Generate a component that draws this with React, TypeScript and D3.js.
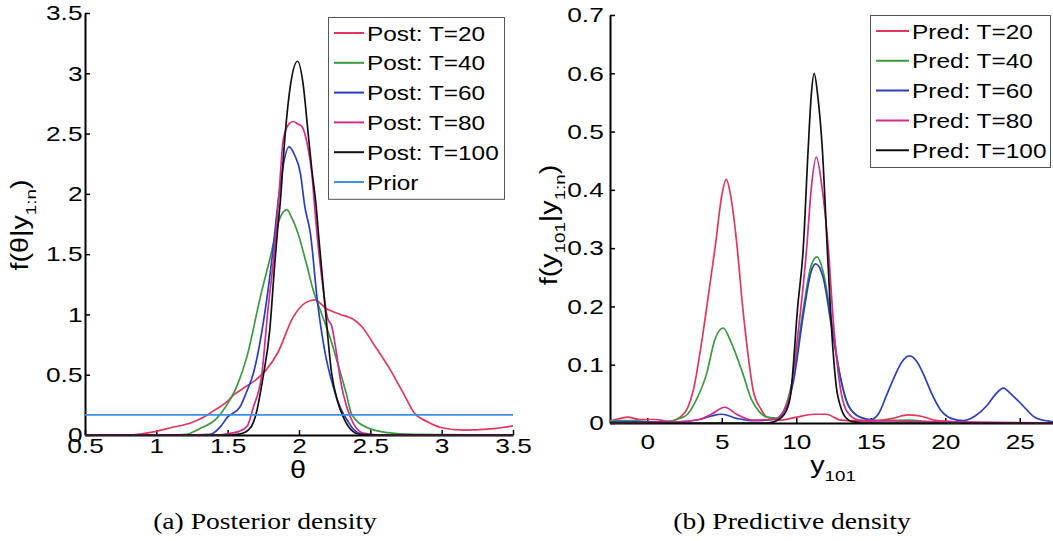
import * as d3 from 'd3';
import { useEffect, useRef } from 'react';

const W = 1053;
const H = 541;

// (a) posterior density of theta: [theta, density] points
const postT20 = [[0.5,0],[0.8,0],[0.9,0.01],[1.0,0.03],[1.1,0.06],[1.24,0.1],[1.32,0.14],[1.4,0.2],[1.5,0.28],[1.54,0.33],[1.6,0.38],[1.7,0.46],[1.77,0.54],[1.85,0.68],[1.96,0.98],[2.05,1.1],[2.11,1.12],[2.19,1.05],[2.29,1.0],[2.38,0.96],[2.44,0.9],[2.52,0.76],[2.64,0.54],[2.73,0.35],[2.81,0.18],[2.9,0.11],[3.0,0.06],[3.15,0.04],[3.34,0.05],[3.5,0.075]];
const postT40 = [[0.5,0],[1.1,0],[1.21,0.005],[1.3,0.05],[1.425,0.14],[1.5,0.26],[1.57,0.42],[1.635,0.65],[1.73,1.15],[1.8,1.48],[1.86,1.78],[1.915,1.87],[1.95,1.8],[1.985,1.7],[2.05,1.43],[2.1,1.2],[2.16,1.0],[2.22,0.8],[2.27,0.6],[2.33,0.35],[2.37,0.17],[2.48,0.06],[2.62,0.02],[2.8,0.005],[3.5,0]];
const postT60 = [[0.5,0],[1.2,0],[1.375,0.005],[1.45,0.07],[1.5,0.15],[1.585,0.23],[1.63,0.35],[1.68,0.51],[1.76,1.01],[1.82,1.56],[1.85,1.9],[1.88,2.17],[1.93,2.39],[1.97,2.32],[2.01,2.17],[2.04,1.9],[2.08,1.67],[2.13,1.1],[2.18,0.7],[2.24,0.4],[2.3,0.2],[2.34,0.12],[2.38,0.05],[2.44,0.01],[2.6,0],[3.5,0]];
const postT80 = [[0.5,0],[1.4,0],[1.5,0.01],[1.58,0.03],[1.635,0.07],[1.68,0.23],[1.74,0.51],[1.78,1.01],[1.83,1.56],[1.86,2.0],[1.89,2.45],[1.93,2.58],[1.96,2.6],[1.99,2.58],[2.02,2.56],[2.06,2.4],[2.09,2.17],[2.11,1.89],[2.13,1.62],[2.16,1.3],[2.2,0.97],[2.23,0.9],[2.26,0.7],[2.29,0.46],[2.33,0.25],[2.36,0.15],[2.4,0.06],[2.45,0.015],[2.55,0],[3.5,0]];
const postT100 = [[0.5,0],[1.5,0],[1.59,0.01],[1.66,0.06],[1.7,0.18],[1.745,0.46],[1.795,0.87],[1.83,1.42],[1.85,1.7],[1.87,1.95],[1.9,2.45],[1.94,2.9],[1.99,3.1],[2.03,2.9],[2.06,2.55],[2.09,2.2],[2.12,1.9],[2.14,1.62],[2.18,1.1],[2.23,0.5],[2.27,0.28],[2.31,0.15],[2.36,0.05],[2.43,0.005],[2.6,0],[3.5,0]];
const prior = [[0.5,0.1667],[3.5,0.1667]];
const postLabels = ['Post: T=20','Post: T=40','Post: T=60','Post: T=80','Post: T=100','Prior'];
const thetaTicks = [0.5,1,1.5,2,2.5,3,3.5];
const densTicks = [0,0.5,1,1.5,2,2.5,3,3.5];

// (b) predictive density of y101: [y, density]
const predT20 = [[-2.5,0.003],[-1.8,0.008],[-1.3,0.01],[-0.5,0.006],[0.5,0.006],[1.5,0.003],[2.2,0.01],[2.7,0.025],[3.1,0.057],[3.6,0.13],[4.0,0.2],[4.6,0.31],[5.0,0.39],[5.3,0.418],[5.6,0.39],[6.0,0.31],[6.4,0.2],[6.8,0.11],[7.1,0.057],[7.6,0.025],[8.05,0.01],[9,0.005],[10,0.01],[11.2,0.015],[12,0.015],[13,0.005],[15,0.003],[16.5,0.008],[17.5,0.014],[18.3,0.012],[19.5,0.004],[21,0.002],[22.5,0]];
const predT40 = [[-2.5,0.004],[-1,0.004],[0.5,0.002],[1.5,0.003],[2.2,0.008],[2.7,0.015],[3.3,0.04],[4.0,0.086],[4.5,0.14],[5.1,0.163],[5.6,0.14],[6.4,0.086],[7,0.04],[7.5,0.02],[8.05,0.01],[8.8,0.008],[9.3,0.03],[9.8,0.08],[10.5,0.2],[11,0.27],[11.4,0.285],[11.8,0.26],[12.4,0.17],[12.95,0.08],[13.5,0.03],[14.3,0.01],[15.5,0.004],[17.5,0.005],[19,0.002],[21,0]];
const predT60 = [[-2.5,0.002],[2,0.002],[3.5,0.006],[4.3,0.012],[5,0.015],[6,0.008],[7,0.004],[8.5,0.006],[9.3,0.025],[9.8,0.07],[10.5,0.19],[11,0.26],[11.3,0.273],[11.8,0.25],[12.4,0.16],[12.95,0.08],[13.5,0.03],[14.3,0.01],[15,0.006],[15.5,0.015],[16.1,0.05],[16.6,0.08],[17.1,0.105],[17.6,0.115],[18.1,0.105],[18.6,0.08],[19.1,0.05],[19.7,0.022],[20.4,0.008],[21.2,0.004],[22,0.012],[22.8,0.03],[23.4,0.05],[23.9,0.06],[24.4,0.05],[25.2,0.03],[26,0.01],[27,0.003],[27.5,0.002]];
const predT80 = [[-2.5,0],[2,0.002],[3.5,0.006],[4.3,0.015],[5.2,0.027],[6,0.015],[7,0.005],[8.5,0.006],[9.5,0.04],[10.1,0.15],[10.7,0.3],[11.0,0.4],[11.35,0.456],[11.7,0.41],[12.15,0.3],[12.5,0.17],[12.9,0.07],[13.4,0.02],[14.2,0.005],[17.5,0.003],[27.5,0]];
const predT100 = [[-2.5,0],[8,0],[8.5,0.002],[9.2,0.015],[9.6,0.045],[10.1,0.2],[10.47,0.3],[10.8,0.47],[11.0,0.56],[11.2,0.6],[11.45,0.56],[11.75,0.47],[12.08,0.3],[12.4,0.15],[12.7,0.06],[12.95,0.03],[13.3,0.01],[13.8,0.002],[14.5,0],[27.5,0]];
const predLabels = ['Pred: T=20','Pred: T=40','Pred: T=60','Pred: T=80','Pred: T=100'];
const yTicks = [0,5,10,15,20,25];
const predTicks = [0,0.1,0.2,0.3,0.4,0.5,0.6,0.7];

const colors = ['#e3365f', '#3a9a3e', '#2a3fbf', '#d42c8c', '#111111', '#3f8fe0'];
const SANS = '"Liberation Sans", Arial, Helvetica, sans-serif';
const SERIF = '"Liberation Serif", "Times New Roman", serif';

const App = () => {
  const ref = useRef(null);

  useEffect(() => {
    const svg = d3.select(ref.current);
    svg.selectAll('*').remove();
    svg.append('rect').attr('width', W).attr('height', H).attr('fill', '#fff');

    const styleAxis = (g) => {
      g.select('.domain').attr('stroke', '#000').attr('stroke-width', 2);
      g.selectAll('.tick line').attr('stroke', '#000').attr('stroke-width', 1.5);
      g.selectAll('.tick text')
        .attr('font-family', SANS)
        .attr('font-size', 21)
        .attr('fill', '#000')
        .attr('transform', 'scale(1.25,1)');
    };

    const panel = (cfg) => {
      const { x, y, xTicks, yTicksV, series, labels, legend, xPad, yPad } = cfg;
      const [y0] = y.range();
      const [x0] = x.range();

      svg.append('g')
        .attr('transform', `translate(0,${y0})`)
        .call(d3.axisBottom(x).tickValues(xTicks).tickFormat(d3.format('~g')).tickSizeInner(-5).tickSizeOuter(0).tickPadding(xPad))
        .call(styleAxis);
      svg.append('g')
        .attr('transform', `translate(${x0},0)`)
        .call(d3.axisLeft(y).tickValues(yTicksV).tickFormat(d3.format('~g')).tickSizeInner(-5).tickSizeOuter(0).tickPadding(yPad))
        .call(styleAxis);

      const line = d3.line()
        .x(d => x(d[0]))
        .y(d => y(d[1]))
        .curve(d3.curveMonotoneX);

      series.forEach((s, i) => {
        svg.append('path')
          .datum(s)
          .attr('fill', 'none')
          .attr('stroke', colors[i])
          .attr('stroke-width', 1.7)
          .attr('d', line);
      });

      // legend
      const { left, top, width, rowH, lineLen } = legend;
      const leg = svg.append('g');
      leg.append('rect')
        .attr('x', left + 0.5).attr('y', top + 0.5)
        .attr('width', width).attr('height', rowH * labels.length + 3)
        .attr('fill', '#fff').attr('stroke', '#555').attr('stroke-width', 1);
      labels.forEach((lab, i) => {
        const cy = top + 16 + i * rowH;
        leg.append('line')
          .attr('x1', left + 6).attr('x2', left + 6 + lineLen)
          .attr('y1', cy).attr('y2', cy)
          .attr('stroke', colors[i]).attr('stroke-width', 2);
        leg.append('text')
          .attr('transform', `translate(${left + 9 + lineLen},${cy + 7.5}) scale(1.22,1)`)
          .attr('font-family', SANS).attr('font-size', 20)
          .text(lab);
      });
    };

    const xa = d3.scaleLinear().domain([0.5, 3.5]).range([85, 513]);
    const ya = d3.scaleLinear().domain([0, 3.5]).range([435, 13]);
    panel({
      x: xa, y: ya, xTicks: thetaTicks, yTicksV: densTicks,
      series: [postT20, postT40, postT60, postT80, postT100, prior],
      labels: postLabels, xPad: 3, yPad: 2,
      legend: { left: 328, top: 17, width: 176, rowH: 29.8, lineLen: 30 }
    });

    const xb = d3.scaleLinear().domain([-2.5, 27.5]).range([610, 1057]);
    const yb = d3.scaleLinear().domain([0, 0.7]).range([423, 15]);
    panel({
      x: xb, y: yb, xTicks: yTicks, yTicksV: predTicks,
      series: [predT20, predT40, predT60, predT80, predT100],
      labels: predLabels, xPad: 11, yPad: 5,
      legend: { left: 870, top: 15, width: 180, rowH: 29.8, lineLen: 33 }
    });

    // axis labels
    const label = (tx, ty, rot, parts) => {
      const t = svg.append('text')
        .attr('transform', `translate(${tx},${ty}) rotate(${rot}) scale(1.25,1)`)
        .attr('text-anchor', 'middle')
        .attr('font-family', SANS)
        .attr('font-size', 23)
        .attr('fill', '#000');
      parts.forEach(([txt, sub]) => {
        t.append('tspan')
          .attr('font-size', sub === 1 ? 15 : 23)
          .attr('dy', sub === 1 ? 8 : sub === -1 ? -8 : 0)
          .text(txt);
      });
    };
    label(28, 225, -90, [['f(θ|y', 0], ['1:n', 1], [')', -1]]);
    label(557, 225, -90, [['f(y', 0], ['101', 1], ['|y', -1], ['1:n', 1], [')', -1]]);
    label(298, 478, 0, [['θ', 0]]);
    label(833, 473, 0, [['y', 0], ['101', 1]]);

    // captions
    const caption = (cx, txt) => svg.append('text')
      .attr('transform', `translate(${cx},529) scale(1.2,1)`)
      .attr('text-anchor', 'middle')
      .attr('font-family', SERIF)
      .attr('font-size', 23)
      .attr('fill', '#000')
      .text(txt);
    caption(265, '(a) Posterior density');
    caption(792, '(b) Predictive density');
  }, []);

  return (
    <svg
      ref={ref}
      width={W}
      height={H}
      style={{ position: 'absolute', left: 0, top: 0, display: 'block' }}
    />
  );
};

export default App;
